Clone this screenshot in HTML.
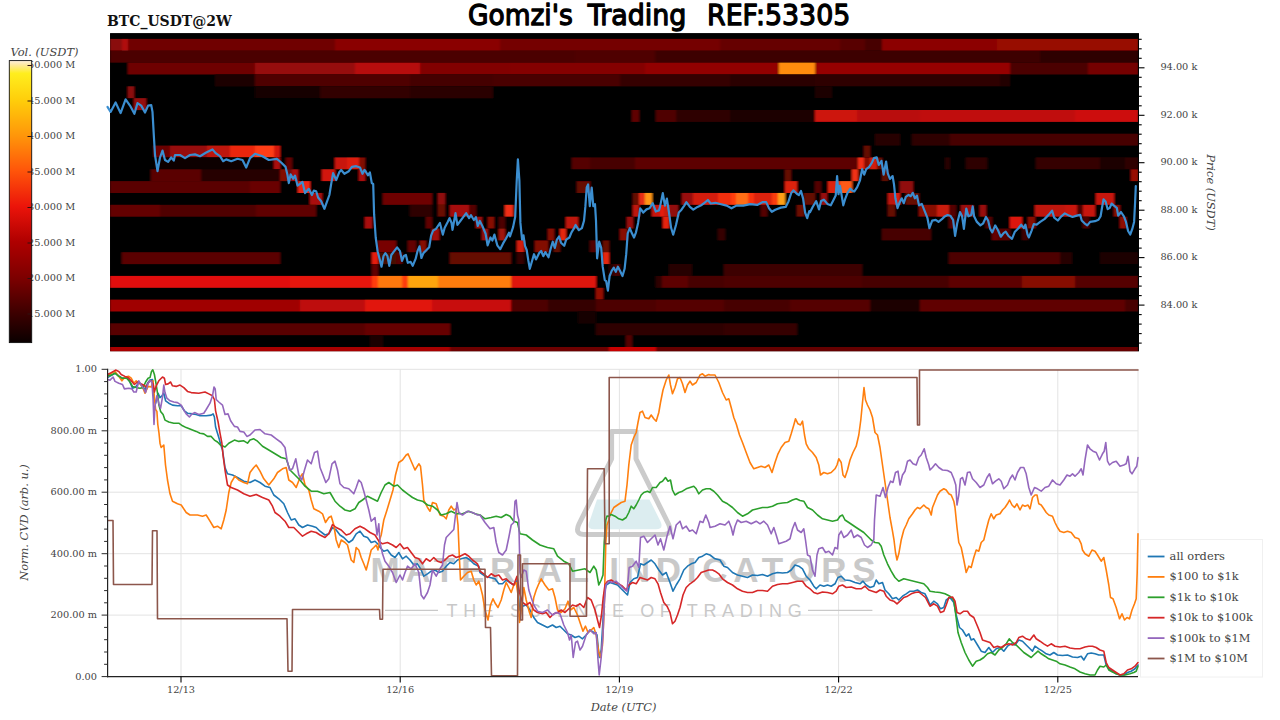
<!DOCTYPE html>
<html lang="en"><head><meta charset="utf-8"><title>Gomzi's Trading REF:53305</title>
<style>html,body{margin:0;padding:0;background:#fff;}body{width:1280px;height:720px;overflow:hidden;}svg{display:block;}text{font-family:"DejaVu Serif","Liberation Serif",serif;fill:#444;}.tk{font-size:9.75px;}.it{font-style:italic;font-size:11.4px;}.lg{font-size:11.4px;}.cv{fill:none;stroke-width:1.6;stroke-linejoin:round;stroke-linecap:round;}</style></head><body>
<svg width="1280" height="720" viewBox="0 0 1280 720">
<rect width="1280" height="720" fill="#fff"/>
<defs><linearGradient id="cb" x1="0" y1="1" x2="0" y2="0"><stop offset="0" stop-color="#0a0000"/><stop offset="0.103" stop-color="#3c0000"/><stop offset="0.23" stop-color="#7d0000"/><stop offset="0.358" stop-color="#af0000"/><stop offset="0.482" stop-color="#eb140a"/><stop offset="0.61" stop-color="#ff550a"/><stop offset="0.734" stop-color="#ff960a"/><stop offset="0.858" stop-color="#ffcd0a"/><stop offset="0.955" stop-color="#ffee1e"/><stop offset="0.985" stop-color="#ffe9a0"/><stop offset="1" stop-color="#fff0e0"/></linearGradient><clipPath id="hc"><rect x="110.1" y="33.3" width="1028.4" height="317.9"/></clipPath><filter id="bl" x="-2%" y="-5%" width="104%" height="110%"><feGaussianBlur stdDeviation="0.8 0.6"/></filter><clipPath id="pc"><rect x="107" y="368" width="1032" height="309.5"/></clipPath></defs>
<text x="107" y="25.5" style="font-weight:bold;font-size:14px;fill:#111" id="t_pair">BTC_USDT@2W</text>
<text x="467.9" y="25" textLength="104.9" lengthAdjust="spacingAndGlyphs" style="font-family:'DejaVu Sans','Liberation Sans',sans-serif;font-size:29px;fill:#000;stroke:#000;stroke-width:1.3;stroke-linejoin:round">Gomzi's</text>
<text x="587.7" y="25" textLength="98.7" lengthAdjust="spacingAndGlyphs" style="font-family:'DejaVu Sans','Liberation Sans',sans-serif;font-size:29px;fill:#000;stroke:#000;stroke-width:1.3;stroke-linejoin:round">Trading</text>
<text x="707" y="25" textLength="143.3" lengthAdjust="spacingAndGlyphs" style="font-family:'DejaVu Sans','Liberation Sans',sans-serif;font-size:29px;fill:#000;stroke:#000;stroke-width:1.3;stroke-linejoin:round">REF:53305</text>
<text x="10.5" y="56" class="it" id="t_vol">Vol. (USDT)</text>
<g id="cbl">
<text x="75.3" y="68.0" text-anchor="end" class="tk">50.000 M</text>
<text x="75.3" y="103.5" text-anchor="end" class="tk">45.000 M</text>
<text x="75.3" y="139.0" text-anchor="end" class="tk">40.000 M</text>
<text x="75.3" y="174.5" text-anchor="end" class="tk">35.000 M</text>
<text x="75.3" y="210.0" text-anchor="end" class="tk">30.000 M</text>
<text x="75.3" y="245.5" text-anchor="end" class="tk">25.000 M</text>
<text x="75.3" y="281.0" text-anchor="end" class="tk">20.000 M</text>
<text x="75.3" y="316.5" text-anchor="end" class="tk">15.000 M</text>
</g>
<rect x="9.3" y="60.6" width="22.4" height="282" fill="url(#cb)" stroke="#111" stroke-width="0.9"/>
<line x1="27.5" y1="65.5" x2="31.8" y2="65.5" stroke="#301010" stroke-width="1"/>
<line x1="27.5" y1="101.0" x2="31.8" y2="101.0" stroke="#301010" stroke-width="1"/>
<line x1="27.5" y1="136.5" x2="31.8" y2="136.5" stroke="#301010" stroke-width="1"/>
<line x1="27.5" y1="172.0" x2="31.8" y2="172.0" stroke="#301010" stroke-width="1"/>
<line x1="27.5" y1="207.5" x2="31.8" y2="207.5" stroke="#301010" stroke-width="1"/>
<line x1="27.5" y1="243.0" x2="31.8" y2="243.0" stroke="#301010" stroke-width="1"/>
<line x1="27.5" y1="278.5" x2="31.8" y2="278.5" stroke="#301010" stroke-width="1"/>
<line x1="27.5" y1="314.0" x2="31.8" y2="314.0" stroke="#301010" stroke-width="1"/>
<rect x="110.1" y="33.3" width="1028.4" height="317.9" fill="#000"/>
<g clip-path="url(#hc)"><g filter="url(#bl)">
<rect x="105.1" y="28.299999999999997" width="1038.4" height="327.9" fill="#000"/>
<rect x="110" y="38.90" width="12" height="11.90" fill="rgb(138,8,8)"/>
<rect x="122" y="38.90" width="6" height="11.90" fill="rgb(176,16,16)"/>
<rect x="128" y="38.90" width="207" height="11.90" fill="rgb(112,0,0)"/>
<rect x="335" y="38.90" width="165" height="11.90" fill="rgb(138,5,5)"/>
<rect x="500" y="38.90" width="220" height="11.90" fill="rgb(116,3,3)"/>
<rect x="720" y="38.90" width="120" height="11.90" fill="rgb(102,2,2)"/>
<rect x="840" y="38.90" width="25" height="11.90" fill="rgb(88,0,0)"/>
<rect x="865" y="38.90" width="17" height="11.90" fill="rgb(70,0,0)"/>
<rect x="882" y="38.90" width="115" height="11.90" fill="rgb(140,6,5)"/>
<rect x="997" y="38.90" width="141" height="11.90" fill="rgb(152,8,6)"/>
<rect x="110" y="50.75" width="465" height="11.90" fill="rgb(76,0,0)"/>
<rect x="575" y="50.75" width="80" height="11.90" fill="rgb(80,0,0)"/>
<rect x="655" y="50.75" width="227" height="11.90" fill="rgb(62,0,0)"/>
<rect x="882" y="50.75" width="158" height="11.90" fill="rgb(60,0,0)"/>
<rect x="1040" y="50.75" width="98" height="11.90" fill="rgb(46,0,0)"/>
<rect x="128" y="62.60" width="127" height="11.90" fill="rgb(110,0,0)"/>
<rect x="255" y="62.60" width="100" height="11.90" fill="rgb(150,10,10)"/>
<rect x="355" y="62.60" width="65" height="11.90" fill="rgb(182,12,8)"/>
<rect x="420" y="62.60" width="90" height="11.90" fill="rgb(130,5,3)"/>
<rect x="510" y="62.60" width="135" height="11.90" fill="rgb(132,5,4)"/>
<rect x="645" y="62.60" width="134" height="11.90" fill="rgb(146,6,4)"/>
<rect x="779" y="62.60" width="36" height="11.90" fill="rgb(255,140,10)"/>
<rect x="815" y="62.60" width="195" height="11.90" fill="rgb(150,6,5)"/>
<rect x="1010" y="62.60" width="78" height="11.90" fill="rgb(75,0,0)"/>
<rect x="1088" y="62.60" width="50" height="11.90" fill="rgb(116,5,4)"/>
<rect x="215" y="74.45" width="40" height="11.90" fill="rgb(30,0,0)"/>
<rect x="255" y="74.45" width="155" height="11.90" fill="rgb(80,0,0)"/>
<rect x="410" y="74.45" width="83" height="11.90" fill="rgb(68,0,0)"/>
<rect x="493" y="74.45" width="127" height="11.90" fill="rgb(72,0,0)"/>
<rect x="620" y="74.45" width="110" height="11.90" fill="rgb(54,0,0)"/>
<rect x="730" y="74.45" width="85" height="11.90" fill="rgb(42,0,0)"/>
<rect x="815" y="74.45" width="185" height="11.90" fill="rgb(46,0,0)"/>
<rect x="1000" y="74.45" width="10" height="11.90" fill="rgb(36,0,0)"/>
<rect x="128" y="86.30" width="6" height="11.90" fill="rgb(140,10,10)"/>
<rect x="255" y="86.30" width="65" height="11.90" fill="rgb(25,0,0)"/>
<rect x="320" y="86.30" width="90" height="11.90" fill="rgb(50,0,0)"/>
<rect x="410" y="86.30" width="83" height="11.90" fill="rgb(42,0,0)"/>
<rect x="815" y="86.30" width="17" height="11.90" fill="rgb(31,0,0)"/>
<rect x="134" y="98.15" width="12" height="11.90" fill="rgb(150,10,10)"/>
<rect x="632" y="110.00" width="7" height="11.90" fill="rgb(95,5,5)"/>
<rect x="656" y="110.00" width="20" height="11.90" fill="rgb(80,5,5)"/>
<rect x="676" y="110.00" width="54" height="11.90" fill="rgb(46,0,0)"/>
<rect x="730" y="110.00" width="85" height="11.90" fill="rgb(30,0,0)"/>
<rect x="815" y="110.00" width="42" height="11.90" fill="rgb(205,18,10)"/>
<rect x="857" y="110.00" width="63" height="11.90" fill="rgb(185,15,10)"/>
<rect x="920" y="110.00" width="155" height="11.90" fill="rgb(192,12,10)"/>
<rect x="1075" y="110.00" width="63" height="11.90" fill="rgb(205,15,10)"/>
<rect x="875" y="133.70" width="25" height="11.90" fill="rgb(39,0,0)"/>
<rect x="912" y="133.70" width="38" height="11.90" fill="rgb(46,0,0)"/>
<rect x="950" y="133.70" width="188" height="11.90" fill="rgb(70,0,0)"/>
<rect x="154" y="145.55" width="16" height="11.90" fill="rgb(105,5,5)"/>
<rect x="170" y="145.55" width="37" height="11.90" fill="rgb(150,15,10)"/>
<rect x="207" y="145.55" width="23" height="11.90" fill="rgb(190,25,10)"/>
<rect x="230" y="145.55" width="25" height="11.90" fill="rgb(235,40,15)"/>
<rect x="255" y="145.55" width="19" height="11.90" fill="rgb(255,62,18)"/>
<rect x="274" y="145.55" width="6" height="11.90" fill="rgb(210,25,10)"/>
<rect x="864" y="145.55" width="6" height="11.90" fill="rgb(101,7,3)"/>
<rect x="154" y="157.40" width="120" height="11.90" fill="rgb(16,0,0)"/>
<rect x="274" y="157.40" width="6" height="11.90" fill="rgb(170,15,10)"/>
<rect x="286" y="157.40" width="6" height="11.90" fill="rgb(100,5,5)"/>
<rect x="335" y="157.40" width="12" height="11.90" fill="rgb(200,25,15)"/>
<rect x="347" y="157.40" width="12" height="11.90" fill="rgb(220,30,15)"/>
<rect x="359" y="157.40" width="6" height="11.90" fill="rgb(130,10,5)"/>
<rect x="572" y="157.40" width="18" height="11.90" fill="rgb(85,3,3)"/>
<rect x="590" y="157.40" width="45" height="11.90" fill="rgb(70,0,0)"/>
<rect x="635" y="157.40" width="223" height="11.90" fill="rgb(93,3,3)"/>
<rect x="858" y="157.40" width="6" height="11.90" fill="rgb(240,45,20)"/>
<rect x="864" y="157.40" width="6" height="11.90" fill="rgb(135,9,4)"/>
<rect x="870" y="157.40" width="7" height="11.90" fill="rgb(210,30,15)"/>
<rect x="877" y="157.40" width="5" height="11.90" fill="rgb(101,7,3)"/>
<rect x="945" y="157.40" width="5" height="11.90" fill="rgb(39,0,0)"/>
<rect x="966" y="157.40" width="21" height="11.90" fill="rgb(46,0,0)"/>
<rect x="1036" y="157.40" width="64" height="11.90" fill="rgb(54,0,0)"/>
<rect x="1100" y="157.40" width="25" height="11.90" fill="rgb(31,0,0)"/>
<rect x="1125" y="157.40" width="13" height="11.90" fill="rgb(46,0,0)"/>
<rect x="151" y="169.25" width="50" height="11.90" fill="rgb(90,0,0)"/>
<rect x="201" y="169.25" width="79" height="11.90" fill="rgb(40,0,0)"/>
<rect x="280" y="169.25" width="6" height="11.90" fill="rgb(130,10,5)"/>
<rect x="286" y="169.25" width="6" height="11.90" fill="rgb(110,10,10)"/>
<rect x="292" y="169.25" width="6" height="11.90" fill="rgb(170,15,10)"/>
<rect x="322" y="169.25" width="13" height="11.90" fill="rgb(210,25,15)"/>
<rect x="359" y="169.25" width="6" height="11.90" fill="rgb(170,15,10)"/>
<rect x="785" y="169.25" width="6" height="11.90" fill="rgb(101,7,3)"/>
<rect x="852" y="169.25" width="6" height="11.90" fill="rgb(240,50,20)"/>
<rect x="882" y="169.25" width="6" height="11.90" fill="rgb(93,7,3)"/>
<rect x="1131" y="169.25" width="7" height="11.90" fill="rgb(153,9,4)"/>
<rect x="110" y="181.10" width="140" height="11.90" fill="rgb(90,0,0)"/>
<rect x="250" y="181.10" width="30" height="11.90" fill="rgb(105,3,3)"/>
<rect x="298" y="181.10" width="6" height="11.90" fill="rgb(230,40,20)"/>
<rect x="304" y="181.10" width="6" height="11.90" fill="rgb(240,40,20)"/>
<rect x="577" y="181.10" width="13" height="11.90" fill="rgb(101,7,3)"/>
<rect x="785" y="181.10" width="12" height="11.90" fill="rgb(220,35,15)"/>
<rect x="815" y="181.10" width="6" height="11.90" fill="rgb(85,3,3)"/>
<rect x="828" y="181.10" width="12" height="11.90" fill="rgb(220,35,15)"/>
<rect x="840" y="181.10" width="12" height="11.90" fill="rgb(255,90,20)"/>
<rect x="900" y="181.10" width="13" height="11.90" fill="rgb(144,13,9)"/>
<rect x="310" y="192.95" width="12" height="11.90" fill="rgb(170,15,10)"/>
<rect x="383" y="192.95" width="49" height="11.90" fill="rgb(110,0,0)"/>
<rect x="438" y="192.95" width="7" height="11.90" fill="rgb(144,10,7)"/>
<rect x="633" y="192.95" width="6" height="11.90" fill="rgb(101,7,3)"/>
<rect x="639" y="192.95" width="6" height="11.90" fill="rgb(230,45,20)"/>
<rect x="645" y="192.95" width="7" height="11.90" fill="rgb(255,150,25)"/>
<rect x="682" y="192.95" width="11" height="11.90" fill="rgb(153,13,9)"/>
<rect x="693" y="192.95" width="25" height="11.90" fill="rgb(210,30,15)"/>
<rect x="718" y="192.95" width="13" height="11.90" fill="rgb(240,45,15)"/>
<rect x="731" y="192.95" width="5" height="11.90" fill="rgb(255,60,15)"/>
<rect x="736" y="192.95" width="12" height="11.90" fill="rgb(255,110,20)"/>
<rect x="748" y="192.95" width="6" height="11.90" fill="rgb(250,50,15)"/>
<rect x="754" y="192.95" width="18" height="11.90" fill="rgb(220,35,15)"/>
<rect x="772" y="192.95" width="6" height="11.90" fill="rgb(250,60,15)"/>
<rect x="778" y="192.95" width="7" height="11.90" fill="rgb(255,160,25)"/>
<rect x="804" y="192.95" width="11" height="11.90" fill="rgb(101,7,3)"/>
<rect x="821" y="192.95" width="6" height="11.90" fill="rgb(153,13,9)"/>
<rect x="888" y="192.95" width="7" height="11.90" fill="rgb(190,20,10)"/>
<rect x="895" y="192.95" width="5" height="11.90" fill="rgb(220,30,15)"/>
<rect x="906" y="192.95" width="13" height="11.90" fill="rgb(101,7,3)"/>
<rect x="1096" y="192.95" width="18" height="11.90" fill="rgb(200,20,10)"/>
<rect x="110" y="204.80" width="50" height="11.90" fill="rgb(100,0,0)"/>
<rect x="160" y="204.80" width="96" height="11.90" fill="rgb(80,0,0)"/>
<rect x="256" y="204.80" width="60" height="11.90" fill="rgb(95,0,0)"/>
<rect x="410" y="204.80" width="22" height="11.90" fill="rgb(46,0,0)"/>
<rect x="438" y="204.80" width="7" height="11.90" fill="rgb(105,7,3)"/>
<rect x="450" y="204.80" width="19" height="11.90" fill="rgb(166,16,9)"/>
<rect x="469" y="204.80" width="7" height="11.90" fill="rgb(85,3,3)"/>
<rect x="505" y="204.80" width="8" height="11.90" fill="rgb(240,45,20)"/>
<rect x="633" y="204.80" width="6" height="11.90" fill="rgb(190,20,10)"/>
<rect x="652" y="204.80" width="8" height="11.90" fill="rgb(200,25,15)"/>
<rect x="660" y="204.80" width="4" height="11.90" fill="rgb(230,30,15)"/>
<rect x="664" y="204.80" width="5" height="11.90" fill="rgb(200,30,15)"/>
<rect x="669" y="204.80" width="9" height="11.90" fill="rgb(144,13,9)"/>
<rect x="761" y="204.80" width="6" height="11.90" fill="rgb(85,3,3)"/>
<rect x="797" y="204.80" width="7" height="11.90" fill="rgb(109,7,3)"/>
<rect x="888" y="204.80" width="7" height="11.90" fill="rgb(101,7,3)"/>
<rect x="919" y="204.80" width="18" height="11.90" fill="rgb(135,9,4)"/>
<rect x="937" y="204.80" width="12" height="11.90" fill="rgb(200,30,15)"/>
<rect x="949" y="204.80" width="7" height="11.90" fill="rgb(85,3,3)"/>
<rect x="961" y="204.80" width="12" height="11.90" fill="rgb(153,13,9)"/>
<rect x="980" y="204.80" width="6" height="11.90" fill="rgb(153,13,9)"/>
<rect x="1035" y="204.80" width="30" height="11.90" fill="rgb(190,20,10)"/>
<rect x="1065" y="204.80" width="12" height="11.90" fill="rgb(200,20,10)"/>
<rect x="1077" y="204.80" width="6" height="11.90" fill="rgb(78,3,3)"/>
<rect x="1083" y="204.80" width="12" height="11.90" fill="rgb(200,20,10)"/>
<rect x="1114" y="204.80" width="6" height="11.90" fill="rgb(135,9,4)"/>
<rect x="365" y="216.65" width="7" height="11.90" fill="rgb(170,15,10)"/>
<rect x="426" y="216.65" width="6" height="11.90" fill="rgb(97,6,3)"/>
<rect x="476" y="216.65" width="6" height="11.90" fill="rgb(153,13,9)"/>
<rect x="488" y="216.65" width="6" height="11.90" fill="rgb(135,9,4)"/>
<rect x="499" y="216.65" width="6" height="11.90" fill="rgb(78,3,3)"/>
<rect x="566" y="216.65" width="12" height="11.90" fill="rgb(190,20,10)"/>
<rect x="627" y="216.65" width="6" height="11.90" fill="rgb(153,13,9)"/>
<rect x="663" y="216.65" width="6" height="11.90" fill="rgb(230,35,15)"/>
<rect x="949" y="216.65" width="6" height="11.90" fill="rgb(85,3,3)"/>
<rect x="986" y="216.65" width="6" height="11.90" fill="rgb(85,3,3)"/>
<rect x="1010" y="216.65" width="12" height="11.90" fill="rgb(220,25,10)"/>
<rect x="1028" y="216.65" width="7" height="11.90" fill="rgb(135,9,4)"/>
<rect x="1083" y="216.65" width="6" height="11.90" fill="rgb(78,3,3)"/>
<rect x="1120" y="216.65" width="6" height="11.90" fill="rgb(144,9,4)"/>
<rect x="432" y="228.50" width="7" height="11.90" fill="rgb(162,16,9)"/>
<rect x="482" y="228.50" width="6" height="11.90" fill="rgb(153,13,9)"/>
<rect x="499" y="228.50" width="6" height="11.90" fill="rgb(162,18,9)"/>
<rect x="548" y="228.50" width="6" height="11.90" fill="rgb(135,9,4)"/>
<rect x="560" y="228.50" width="6" height="11.90" fill="rgb(230,40,15)"/>
<rect x="620" y="228.50" width="7" height="11.90" fill="rgb(135,9,4)"/>
<rect x="718" y="228.50" width="7" height="11.90" fill="rgb(54,0,0)"/>
<rect x="882" y="228.50" width="49" height="11.90" fill="rgb(70,0,0)"/>
<rect x="992" y="228.50" width="6" height="11.90" fill="rgb(101,3,3)"/>
<rect x="998" y="228.50" width="12" height="11.90" fill="rgb(85,3,3)"/>
<rect x="1022" y="228.50" width="6" height="11.90" fill="rgb(62,0,0)"/>
<rect x="378" y="240.35" width="18" height="11.90" fill="rgb(120,5,5)"/>
<rect x="408" y="240.35" width="8" height="11.90" fill="rgb(100,5,5)"/>
<rect x="420" y="240.35" width="6" height="11.90" fill="rgb(135,9,4)"/>
<rect x="517" y="240.35" width="7" height="11.90" fill="rgb(210,30,15)"/>
<rect x="535" y="240.35" width="13" height="11.90" fill="rgb(130,9,4)"/>
<rect x="554" y="240.35" width="6" height="11.90" fill="rgb(97,7,3)"/>
<rect x="590" y="240.35" width="6" height="11.90" fill="rgb(81,3,3)"/>
<rect x="603" y="240.35" width="6" height="11.90" fill="rgb(105,7,3)"/>
<rect x="122" y="252.20" width="158" height="11.90" fill="rgb(90,0,0)"/>
<rect x="372" y="252.20" width="6" height="11.90" fill="rgb(230,30,15)"/>
<rect x="378" y="252.20" width="18" height="11.90" fill="rgb(70,8,5)"/>
<rect x="396" y="252.20" width="6" height="11.90" fill="rgb(90,5,5)"/>
<rect x="450" y="252.20" width="61" height="11.90" fill="rgb(101,7,3)"/>
<rect x="517" y="252.20" width="7" height="11.90" fill="rgb(54,0,0)"/>
<rect x="603" y="252.20" width="6" height="11.90" fill="rgb(230,40,15)"/>
<rect x="949" y="252.20" width="111" height="11.90" fill="rgb(78,3,3)"/>
<rect x="1060" y="252.20" width="12" height="11.90" fill="rgb(39,0,0)"/>
<rect x="1100" y="252.20" width="38" height="11.90" fill="rgb(27,0,0)"/>
<rect x="372" y="264.05" width="6" height="11.90" fill="rgb(100,0,0)"/>
<rect x="609" y="264.05" width="5" height="11.90" fill="rgb(39,0,0)"/>
<rect x="614" y="264.05" width="6" height="11.90" fill="rgb(70,0,0)"/>
<rect x="669" y="264.05" width="23" height="11.90" fill="rgb(39,0,0)"/>
<rect x="724" y="264.05" width="138" height="11.90" fill="rgb(62,0,0)"/>
<rect x="110" y="275.90" width="180" height="11.90" fill="rgb(225,15,10)"/>
<rect x="290" y="275.90" width="82" height="11.90" fill="rgb(230,25,10)"/>
<rect x="372" y="275.90" width="6" height="11.90" fill="rgb(255,60,10)"/>
<rect x="378" y="275.90" width="24" height="11.90" fill="rgb(255,120,10)"/>
<rect x="402" y="275.90" width="6" height="11.90" fill="rgb(255,60,10)"/>
<rect x="408" y="275.90" width="30" height="11.90" fill="rgb(255,165,15)"/>
<rect x="438" y="275.90" width="73" height="11.90" fill="rgb(255,125,10)"/>
<rect x="511" y="275.90" width="85" height="11.90" fill="rgb(222,20,10)"/>
<rect x="656" y="275.90" width="6" height="11.90" fill="rgb(46,0,0)"/>
<rect x="662" y="275.90" width="26" height="11.90" fill="rgb(93,3,3)"/>
<rect x="688" y="275.90" width="36" height="11.90" fill="rgb(70,0,0)"/>
<rect x="724" y="275.90" width="138" height="11.90" fill="rgb(78,0,0)"/>
<rect x="862" y="275.90" width="87" height="11.90" fill="rgb(70,0,0)"/>
<rect x="949" y="275.90" width="73" height="11.90" fill="rgb(93,3,3)"/>
<rect x="1022" y="275.90" width="53" height="11.90" fill="rgb(135,9,4)"/>
<rect x="1075" y="275.90" width="63" height="11.90" fill="rgb(85,3,3)"/>
<rect x="596" y="287.75" width="7" height="11.90" fill="rgb(148,9,4)"/>
<rect x="110" y="299.60" width="190" height="11.90" fill="rgb(160,5,5)"/>
<rect x="300" y="299.60" width="65" height="11.90" fill="rgb(190,10,10)"/>
<rect x="365" y="299.60" width="67" height="11.90" fill="rgb(225,20,12)"/>
<rect x="432" y="299.60" width="79" height="11.90" fill="rgb(200,15,10)"/>
<rect x="511" y="299.60" width="37" height="11.90" fill="rgb(78,3,0)"/>
<rect x="548" y="299.60" width="48" height="11.90" fill="rgb(54,0,0)"/>
<rect x="596" y="299.60" width="60" height="11.90" fill="rgb(78,3,0)"/>
<rect x="656" y="299.60" width="68" height="11.90" fill="rgb(85,3,3)"/>
<rect x="724" y="299.60" width="66" height="11.90" fill="rgb(70,0,0)"/>
<rect x="790" y="299.60" width="80" height="11.90" fill="rgb(85,3,3)"/>
<rect x="870" y="299.60" width="50" height="11.90" fill="rgb(31,0,0)"/>
<rect x="920" y="299.60" width="205" height="11.90" fill="rgb(97,3,3)"/>
<rect x="1125" y="299.60" width="13" height="11.90" fill="rgb(70,0,0)"/>
<rect x="578" y="311.45" width="18" height="11.90" fill="rgb(22,0,0)"/>
<rect x="110" y="323.30" width="255" height="11.90" fill="rgb(88,0,0)"/>
<rect x="365" y="323.30" width="85" height="11.90" fill="rgb(102,2,2)"/>
<rect x="596" y="323.30" width="128" height="11.90" fill="rgb(46,0,0)"/>
<rect x="724" y="323.30" width="73" height="11.90" fill="rgb(54,0,0)"/>
<rect x="370" y="335.15" width="13" height="11.90" fill="rgb(30,0,0)"/>
<rect x="626" y="335.15" width="6" height="11.90" fill="rgb(85,3,3)"/>
<rect x="110" y="347.00" width="340" height="11.90" fill="rgb(168,0,0)"/>
<rect x="450" y="347.00" width="159" height="11.90" fill="rgb(109,0,0)"/>
<rect x="609" y="347.00" width="47" height="11.90" fill="rgb(200,5,5)"/>
<rect x="656" y="347.00" width="482" height="11.90" fill="rgb(101,0,0)"/>
</g></g>
<polyline points="107.5,106.9 110.6,111.9 115.6,102.5 120.6,113.1 125.6,99.4 130.0,105.6 134.4,113.8 137.5,103.1 141.2,105.6 145.0,112.5 148.1,105.6 151.2,105.0 152.5,111.9 153.8,135.0 155.0,155.0 157.5,171.2 160.0,157.5 162.5,150.6 165.0,160.0 168.1,161.9 171.2,157.5 173.8,160.6 175.0,155.0 180.0,155.0 185.0,158.1 190.0,155.0 195.0,154.4 200.0,156.2 206.2,152.5 212.5,149.4 215.6,153.1 220.0,156.2 223.1,161.2 226.2,159.4 231.2,161.2 237.5,158.8 242.5,160.0 246.2,167.5 248.8,161.2 250.0,158.1 255.0,153.8 262.5,156.2 268.8,160.0 276.9,158.8 281.2,162.5 285.6,166.9 287.5,175.0 288.8,183.1 290.6,174.4 293.1,178.8 295.0,175.6 297.5,185.6 300.0,183.8 302.5,181.9 305.0,193.1 308.8,188.8 311.9,195.0 313.8,190.6 316.2,191.2 318.1,197.5 321.2,201.2 324.4,208.8 326.9,201.9 329.4,195.0 331.2,183.8 333.1,173.1 336.2,180.0 339.4,171.9 341.2,170.0 344.4,173.8 348.8,171.2 351.9,166.9 356.2,166.2 360.0,167.5 362.5,173.8 364.4,170.0 365.0,170.4 367.9,175.3 369.9,172.4 371.8,183.1 373.2,184.0 374.1,214.2 375.7,237.5 377.6,251.2 379.6,258.9 381.5,266.7 383.5,256.0 385.4,253.1 387.4,256.0 389.3,265.8 391.3,255.0 394.2,251.2 397.1,247.3 400.0,251.2 402.0,260.9 403.9,256.0 405.9,255.0 407.8,262.8 410.7,261.9 412.7,265.8 415.6,258.9 417.5,251.2 419.5,246.3 421.4,258.0 423.4,253.1 426.3,250.2 429.2,247.3 431.1,235.6 433.1,230.7 436.0,228.8 439.9,223.0 442.8,234.6 444.7,227.8 447.7,222.0 449.6,218.1 451.6,223.0 452.5,229.8 455.5,213.2 457.4,224.9 460.3,221.0 463.2,217.1 466.2,213.2 469.1,218.1 471.0,215.2 473.9,220.0 475.9,217.1 477.8,225.9 479.8,221.0 482.7,226.8 485.6,233.7 487.6,245.3 490.5,237.5 492.4,240.5 494.4,234.6 497.3,245.3 500.2,249.2 503.1,243.4 506.0,238.5 509.0,232.7 510.0,236.5 513.1,227.1 515.2,216.7 516.7,181.2 517.9,159.4 519.4,181.2 520.4,222.9 522.1,239.6 523.5,235.4 525.0,245.8 526.7,250.0 528.3,260.4 529.8,268.8 531.9,261.5 534.0,254.2 536.0,259.4 539.2,253.1 541.2,251.0 543.3,256.2 545.4,252.1 548.5,257.3 550.6,249.0 552.7,241.7 554.8,247.9 556.9,239.6 559.0,236.5 561.0,242.7 564.2,245.8 566.2,239.6 569.4,237.5 571.5,232.3 573.5,229.2 575.6,225.0 578.8,230.2 581.9,228.1 584.0,220.8 585.4,206.2 586.7,187.5 588.1,184.4 589.8,206.2 591.7,187.5 593.3,206.2 595.0,204.2 596.0,220.8 597.1,258.3 599.2,241.7 601.2,247.9 602.7,266.7 604.8,280.2 606.2,281.2 607.9,290.6 609.6,276.0 611.7,270.8 613.8,267.7 615.8,271.9 617.9,266.7 620.0,270.8 622.5,276.0 624.6,268.8 626.2,254.2 627.7,233.3 629.8,228.1 631.9,233.3 634.0,237.5 636.0,232.3 638.1,222.9 640.2,208.3 643.3,212.5 646.5,209.4 649.6,208.3 652.7,203.1 655.8,211.5 659.0,210.4 660.0,206.9 662.8,193.1 664.9,205.6 666.9,198.6 669.0,212.5 671.1,227.8 673.2,234.7 676.0,225.0 678.8,212.5 681.5,209.7 684.3,205.6 686.4,202.1 689.9,206.9 693.3,209.7 697.5,206.9 701.7,204.9 704.4,202.8 707.9,200.0 710.7,203.5 715.6,202.8 721.1,204.2 726.7,205.6 731.5,208.3 736.4,205.6 743.3,205.6 750.3,204.2 757.2,204.9 762.8,202.1 766.2,202.1 769.0,208.3 771.8,211.8 775.3,209.7 780.8,207.6 785.7,206.9 788.5,201.4 791.2,193.1 793.3,190.3 796.8,193.8 798.9,195.1 801.0,191.0 803.1,198.6 805.1,212.5 807.2,218.1 809.3,211.1 810.0,212.2 812.8,206.7 816.2,201.1 819.0,209.4 821.1,201.1 823.9,199.7 827.4,203.9 830.8,205.3 833.6,199.7 835.7,195.6 837.1,176.1 838.5,194.2 839.9,185.8 841.2,192.8 843.3,205.3 845.4,198.3 847.5,192.8 850.3,188.6 852.4,190.7 854.4,191.4 857.2,187.2 860.0,180.3 862.1,169.2 864.2,174.7 866.2,169.2 869.0,167.1 871.8,162.9 873.9,158.1 876.7,157.4 878.8,165.0 881.5,160.8 883.6,174.7 886.1,161.5 887.8,173.3 889.9,178.9 892.6,176.1 894.0,184.4 895.4,198.3 897.5,208.1 899.6,202.5 901.7,198.3 903.8,203.2 905.8,196.9 908.6,194.9 910.7,196.2 912.8,192.8 914.9,198.3 916.9,195.6 919.0,205.3 921.8,203.9 924.6,210.8 927.4,217.8 929.4,228.2 932.2,220.6 935.7,219.9 938.5,221.9 941.9,219.2 944.7,216.4 947.5,215.0 950.3,215.7 953.1,219.9 955.1,235.8 957.2,223.3 960.0,212.0 962.1,216.3 963.9,228.9 966.3,208.5 968.4,216.3 971.2,214.9 972.7,206.4 974.1,216.3 976.9,221.9 980.4,225.4 983.2,223.3 986.0,217.0 988.1,220.5 990.2,228.9 992.3,232.4 995.2,225.4 998.0,230.3 1000.8,236.7 1003.6,233.1 1005.7,231.7 1008.5,236.0 1012.0,238.8 1014.9,231.7 1018.4,228.2 1021.2,224.7 1024.0,228.2 1025.4,224.7 1027.5,234.5 1028.9,237.4 1031.7,230.3 1033.8,224.0 1036.7,224.7 1040.2,221.9 1044.4,219.1 1048.6,214.9 1052.1,210.6 1054.2,217.7 1057.8,220.5 1061.3,216.3 1064.8,213.4 1069.0,215.6 1072.5,217.0 1076.7,215.6 1080.2,214.9 1081.7,220.5 1084.5,223.3 1087.3,225.4 1090.1,221.9 1095.0,221.2 1098.5,219.8 1100.6,216.3 1102.0,207.8 1103.5,199.4 1105.6,201.5 1107.7,209.2 1109.8,207.8 1111.6,203.6 1114.0,205.7 1116.8,207.8 1118.2,215.6 1121.0,212.0 1123.9,216.3 1126.0,221.9 1128.1,231.0 1130.2,234.5 1132.3,228.9 1134.1,221.9 1135.1,202.2 1135.8,186.0" fill="none" stroke="#3b8ed0" stroke-width="2.2" stroke-linejoin="round" stroke-linecap="round"/>
<line x1="1138.5" y1="33.3" x2="1138.5" y2="351.2" stroke="#000" stroke-width="1"/>
<line x1="1138.5" y1="39.3" x2="1141.7" y2="39.3" stroke="#000" stroke-width="1.1"/><line x1="1138.5" y1="48.8" x2="1141.7" y2="48.8" stroke="#000" stroke-width="1.1"/><line x1="1138.5" y1="58.3" x2="1141.7" y2="58.3" stroke="#000" stroke-width="1.1"/><line x1="1138.5" y1="67.8" x2="1144.5" y2="67.8" stroke="#000" stroke-width="1.1"/><text x="1197.3" y="70.2" text-anchor="end" class="tk">94.00 k</text><line x1="1138.5" y1="77.3" x2="1141.7" y2="77.3" stroke="#000" stroke-width="1.1"/><line x1="1138.5" y1="86.8" x2="1141.7" y2="86.8" stroke="#000" stroke-width="1.1"/><line x1="1138.5" y1="96.3" x2="1141.7" y2="96.3" stroke="#000" stroke-width="1.1"/><line x1="1138.5" y1="105.8" x2="1141.7" y2="105.8" stroke="#000" stroke-width="1.1"/><line x1="1138.5" y1="115.3" x2="1144.5" y2="115.3" stroke="#000" stroke-width="1.1"/><text x="1197.3" y="117.7" text-anchor="end" class="tk">92.00 k</text><line x1="1138.5" y1="124.8" x2="1141.7" y2="124.8" stroke="#000" stroke-width="1.1"/><line x1="1138.5" y1="134.2" x2="1141.7" y2="134.2" stroke="#000" stroke-width="1.1"/><line x1="1138.5" y1="143.7" x2="1141.7" y2="143.7" stroke="#000" stroke-width="1.1"/><line x1="1138.5" y1="153.2" x2="1141.7" y2="153.2" stroke="#000" stroke-width="1.1"/><line x1="1138.5" y1="162.7" x2="1144.5" y2="162.7" stroke="#000" stroke-width="1.1"/><text x="1197.3" y="165.1" text-anchor="end" class="tk">90.00 k</text><line x1="1138.5" y1="172.2" x2="1141.7" y2="172.2" stroke="#000" stroke-width="1.1"/><line x1="1138.5" y1="181.7" x2="1141.7" y2="181.7" stroke="#000" stroke-width="1.1"/><line x1="1138.5" y1="191.2" x2="1141.7" y2="191.2" stroke="#000" stroke-width="1.1"/><line x1="1138.5" y1="200.7" x2="1141.7" y2="200.7" stroke="#000" stroke-width="1.1"/><line x1="1138.5" y1="210.2" x2="1144.5" y2="210.2" stroke="#000" stroke-width="1.1"/><text x="1197.3" y="212.6" text-anchor="end" class="tk">88.00 k</text><line x1="1138.5" y1="219.7" x2="1141.7" y2="219.7" stroke="#000" stroke-width="1.1"/><line x1="1138.5" y1="229.2" x2="1141.7" y2="229.2" stroke="#000" stroke-width="1.1"/><line x1="1138.5" y1="238.7" x2="1141.7" y2="238.7" stroke="#000" stroke-width="1.1"/><line x1="1138.5" y1="248.1" x2="1141.7" y2="248.1" stroke="#000" stroke-width="1.1"/><line x1="1138.5" y1="257.6" x2="1144.5" y2="257.6" stroke="#000" stroke-width="1.1"/><text x="1197.3" y="260.0" text-anchor="end" class="tk">86.00 k</text><line x1="1138.5" y1="267.1" x2="1141.7" y2="267.1" stroke="#000" stroke-width="1.1"/><line x1="1138.5" y1="276.6" x2="1141.7" y2="276.6" stroke="#000" stroke-width="1.1"/><line x1="1138.5" y1="286.1" x2="1141.7" y2="286.1" stroke="#000" stroke-width="1.1"/><line x1="1138.5" y1="295.6" x2="1141.7" y2="295.6" stroke="#000" stroke-width="1.1"/><line x1="1138.5" y1="305.1" x2="1144.5" y2="305.1" stroke="#000" stroke-width="1.1"/><text x="1197.3" y="307.5" text-anchor="end" class="tk">84.00 k</text><line x1="1138.5" y1="314.6" x2="1141.7" y2="314.6" stroke="#000" stroke-width="1.1"/><line x1="1138.5" y1="324.1" x2="1141.7" y2="324.1" stroke="#000" stroke-width="1.1"/><line x1="1138.5" y1="333.6" x2="1141.7" y2="333.6" stroke="#000" stroke-width="1.1"/><line x1="1138.5" y1="343.1" x2="1141.7" y2="343.1" stroke="#000" stroke-width="1.1"/>
<text transform="translate(1207,192.5) rotate(90)" text-anchor="middle" class="it" id="t_price">Price (USDT)</text>
<line x1="107.6" y1="369.3" x2="1138" y2="369.3" stroke="#e3e3e3" stroke-width="1"/><line x1="107.6" y1="430.8" x2="1138" y2="430.8" stroke="#e3e3e3" stroke-width="1"/><line x1="107.6" y1="492.2" x2="1138" y2="492.2" stroke="#e3e3e3" stroke-width="1"/><line x1="107.6" y1="553.7" x2="1138" y2="553.7" stroke="#e3e3e3" stroke-width="1"/><line x1="107.6" y1="615.1" x2="1138" y2="615.1" stroke="#e3e3e3" stroke-width="1"/><line x1="181.0" y1="369.3" x2="181.0" y2="676.6" stroke="#e3e3e3" stroke-width="1"/><line x1="400.2" y1="369.3" x2="400.2" y2="676.6" stroke="#e3e3e3" stroke-width="1"/><line x1="619.4" y1="369.3" x2="619.4" y2="676.6" stroke="#e3e3e3" stroke-width="1"/><line x1="838.6" y1="369.3" x2="838.6" y2="676.6" stroke="#e3e3e3" stroke-width="1"/><line x1="1057.8" y1="369.3" x2="1057.8" y2="676.6" stroke="#e3e3e3" stroke-width="1"/><line x1="1138" y1="369.3" x2="1138" y2="676.6" stroke="#e6e6e6" stroke-width="1"/>
<g id="wm" fill="none"><path d="M611.6,431.5 L636,431.5 L636,458.8 L668.5,524 Q673.5,534.6 662,534.6 L585.5,534.6 Q574,534.6 579,524 L611.6,458.8 Z" stroke="#cbcbcb" stroke-width="5" stroke-linejoin="round"/><path d="M597,499.4 L649.4,499.4 L660.5,521.5 Q664,529.2 656,529.2 L594,529.2 Q586,529.2 589.5,521.5 Z" fill="#dcedf0" stroke="none"/></g>
<text x="370.5" y="582.2" id="t_wm1" style="font-family:'Liberation Sans',sans-serif;font-weight:bold;font-size:35px;fill:#c9c9c9;letter-spacing:5.73px">MATERIAL INDICATORS</text>
<text x="446.5" y="616.8" id="t_wm2" style="font-family:'Liberation Sans',sans-serif;font-size:18px;fill:#c8c8c8;letter-spacing:5.64px">THE SCIENCE OF TRADING</text>
<line x1="385" y1="610.4" x2="438" y2="610.4" stroke="#c9c9c9" stroke-width="1.3"/><line x1="808" y1="610.4" x2="872.4" y2="610.4" stroke="#c9c9c9" stroke-width="1.3"/>
<g clip-path="url(#pc)">
<polyline class="cv" stroke="#1f77b4" points="107.5,377.6 110.6,375.8 115.0,373.2 118.8,375.8 121.9,378.2 126.2,377.6 129.4,380.8 132.5,388.2 135.6,387.0 138.8,382.6 142.5,385.1 145.0,390.1 147.5,383.2 150.0,380.1 152.5,379.5 154.0,399.5 155.6,403.2 158.1,393.2 160.0,397.6 161.9,395.8 163.8,393.2 165.6,400.8 168.8,403.2 172.5,405.1 177.5,405.8 181.2,405.8 184.4,410.8 187.5,413.2 192.5,413.9 196.2,414.5 200.0,415.8 206.2,415.8 211.2,415.1 213.1,413.9 214.4,417.0 215.6,427.0 217.5,433.2 219.4,439.5 220.6,444.5 222.5,450.0 225.0,467.5 227.5,473.8 232.5,475.0 237.5,477.5 243.8,481.2 250.0,482.5 255.0,480.0 260.0,482.5 265.0,486.2 270.0,487.5 273.8,495.0 278.8,498.8 283.8,503.8 287.5,512.5 291.2,520.0 295.0,518.8 298.8,525.0 302.5,527.5 307.5,525.0 312.5,526.2 316.2,527.5 320.0,531.2 325.0,535.0 328.8,533.8 332.5,527.5 336.2,530.0 340.0,535.0 343.8,537.5 348.8,542.5 352.5,540.0 356.2,533.8 360.0,531.2 363.8,536.2 367.5,537.5 371.2,542.5 375.0,541.2 378.8,545.0 380.0,547.5 383.8,551.2 387.5,550.0 391.2,555.0 395.0,557.5 398.8,552.5 402.5,558.8 406.2,556.2 410.0,560.0 413.8,565.0 417.5,563.8 421.2,570.0 423.8,576.2 427.5,573.8 431.2,571.2 435.0,570.0 438.8,572.5 442.5,571.2 446.2,566.2 450.0,562.5 453.8,563.8 457.5,560.0 461.2,558.8 466.2,557.5 470.0,560.0 473.8,563.8 478.8,566.2 480.0,572.5 485.0,576.2 490.0,577.5 495.0,578.8 498.8,583.8 502.5,583.8 506.2,580.0 510.0,582.5 513.8,585.0 517.5,580.0 519.5,610.0 522.5,606.2 526.2,605.0 530.0,610.0 533.8,617.5 537.5,622.5 542.5,625.0 547.5,627.5 552.5,625.0 556.2,627.5 560.0,626.2 563.8,630.0 567.5,633.8 571.2,635.0 575.0,637.5 578.8,636.2 582.5,638.8 586.2,635.0 590.0,630.0 593.8,632.5 597.0,635.0 599.2,657.5 601.2,650.0 603.0,620.0 604.5,592.5 606.2,585.0 610.0,582.5 613.8,583.8 617.5,585.0 621.2,588.8 625.0,592.5 627.5,595.0 630.0,582.5 633.8,578.8 637.5,577.5 640.5,563.8 643.8,565.0 647.5,562.5 651.2,560.0 655.0,563.8 658.8,570.0 662.5,575.0 666.2,572.5 670.0,582.5 673.0,591.2 676.2,585.0 680.0,578.8 683.8,570.0 687.5,566.2 691.2,563.8 695.0,562.5 698.8,557.5 702.5,556.2 706.2,553.8 710.0,555.0 715.0,558.8 720.0,560.0 723.8,566.2 727.5,567.5 732.5,572.5 737.5,575.0 742.5,576.2 747.5,577.5 752.5,575.0 757.5,575.5 762.5,574.5 767.5,576.2 772.5,573.8 777.5,572.5 782.5,573.0 787.5,572.5 791.2,570.0 795.0,565.0 798.8,566.2 802.5,568.8 806.2,576.2 810.0,580.0 813.8,586.2 816.2,588.8 820.0,585.0 823.8,586.2 827.5,585.0 831.2,586.2 835.0,583.8 838.0,577.5 841.2,576.2 845.0,580.0 850.0,580.5 855.0,582.5 860.0,583.8 863.0,581.2 866.2,585.0 870.0,587.5 873.8,586.2 876.2,580.0 878.8,583.8 882.5,582.5 885.0,590.0 888.8,593.8 892.5,598.8 896.2,597.5 898.8,600.0 902.5,596.2 906.2,593.8 910.0,591.2 913.8,591.2 917.5,590.0 921.2,592.5 925.0,593.8 927.5,598.8 930.0,605.0 933.8,601.2 937.5,603.8 940.5,608.8 943.8,607.5 946.2,600.0 950.0,597.5 953.8,602.5 956.2,615.0 959.5,627.5 962.5,630.0 966.2,636.2 968.8,633.8 971.2,640.0 973.8,638.8 977.5,645.0 981.2,651.2 985.0,652.5 988.8,647.5 992.5,652.5 996.2,648.8 1000.0,647.5 1003.8,651.2 1007.5,646.2 1011.2,643.8 1015.0,645.0 1018.8,640.0 1022.5,641.2 1026.2,645.0 1030.0,648.8 1032.5,651.2 1035.0,646.2 1038.8,648.8 1042.5,651.2 1046.2,653.8 1050.0,655.0 1053.8,652.5 1057.5,655.0 1062.5,655.5 1067.5,655.0 1072.5,657.0 1077.5,657.5 1081.2,656.2 1083.8,660.0 1087.5,653.8 1091.2,653.0 1095.0,653.8 1098.8,655.0 1103.8,655.0 1106.2,665.0 1108.8,668.8 1112.5,671.2 1116.2,673.8 1120.0,675.0 1123.8,675.0 1127.5,672.5 1131.2,671.2 1135.0,668.8 1138.0,665.0"/>
<polyline class="cv" stroke="#ff7f0e" points="107.5,376.4 111.2,373.2 115.0,371.4 118.8,376.4 121.9,380.8 125.0,377.0 128.8,376.4 131.2,378.2 133.8,383.2 136.2,380.8 138.8,382.6 142.5,387.0 145.0,393.2 148.1,386.4 151.2,387.0 153.1,380.8 154.4,397.0 155.6,409.5 156.9,411.4 157.8,424.5 159.0,433.2 160.0,443.2 161.2,447.5 163.8,445.0 165.5,465.0 167.5,480.0 170.0,493.8 172.5,501.2 177.5,503.8 181.2,505.0 186.2,512.5 190.0,515.0 197.5,515.0 202.5,516.2 206.2,515.0 210.0,521.2 213.8,527.5 217.5,526.2 221.2,528.8 223.8,520.0 226.2,510.0 228.8,492.5 231.2,482.5 235.0,476.2 238.8,480.0 243.8,482.5 247.5,483.8 250.0,472.5 253.8,467.5 256.2,465.0 260.0,471.2 263.8,478.8 268.8,485.0 273.8,478.8 277.5,472.5 282.5,468.8 286.2,467.5 288.8,480.0 292.5,482.5 296.2,487.5 300.0,477.5 302.5,473.8 305.0,485.0 308.8,490.0 311.2,500.0 313.8,508.8 318.8,511.2 322.5,513.8 325.5,522.5 328.8,517.5 331.2,516.2 333.8,525.0 336.2,540.0 338.8,547.5 341.2,540.0 345.0,542.5 347.5,545.0 351.2,560.0 353.8,562.5 356.2,547.5 358.8,550.0 361.2,557.5 363.8,563.8 366.2,570.0 368.8,560.0 371.2,550.0 373.8,547.5 376.2,545.0 378.0,550.0 379.5,540.0 381.2,535.0 383.8,520.0 387.0,510.0 390.0,500.0 393.0,490.0 395.5,475.0 398.8,462.5 402.5,460.0 406.2,455.0 408.0,453.8 411.2,461.2 415.0,470.0 418.8,463.8 420.5,466.2 422.5,485.0 423.8,500.0 427.5,507.5 430.0,511.2 432.5,502.5 436.2,503.8 440.0,515.0 443.8,516.2 446.2,518.8 448.8,510.0 451.2,506.2 453.8,510.0 456.2,508.8 458.0,525.0 459.5,560.0 460.5,580.0 463.8,576.2 467.5,572.5 471.2,571.2 473.8,580.0 476.2,585.0 478.8,581.2 480.0,585.0 482.5,595.0 485.0,610.0 488.0,620.0 490.5,605.0 493.0,598.8 495.5,603.8 498.0,607.5 501.2,600.0 503.8,590.0 506.2,582.5 508.8,587.5 511.2,592.5 513.8,585.0 516.2,582.5 518.0,595.0 519.5,622.5 521.2,610.0 523.8,587.5 526.2,600.0 528.8,610.0 531.2,617.5 533.8,597.5 536.2,590.0 538.8,583.8 541.2,578.8 545.0,585.0 548.8,590.0 552.5,588.8 555.0,597.5 557.5,610.0 561.2,612.5 565.0,608.8 568.0,601.2 570.5,610.0 573.8,607.5 577.5,615.0 580.0,622.5 583.0,631.2 585.5,626.2 588.0,632.5 591.2,630.0 593.8,627.5 596.2,635.0 598.8,652.5 600.5,657.5 602.5,645.0 604.2,610.0 605.8,542.5 607.0,525.0 608.8,520.0 610.0,515.0 613.8,507.5 617.5,505.0 621.2,502.5 625.0,501.2 627.0,485.0 628.8,465.0 631.2,445.0 633.8,437.5 636.2,432.5 638.0,422.5 640.0,412.5 642.5,411.2 645.0,417.5 648.8,418.8 651.2,415.0 653.8,418.8 656.2,421.2 658.8,412.5 660.5,402.5 663.0,390.0 666.2,380.0 668.8,375.0 670.5,385.0 672.5,393.8 675.0,387.5 677.5,378.8 680.0,377.5 682.5,383.8 685.0,392.5 687.5,385.0 690.0,381.2 692.5,385.0 696.2,382.5 700.0,375.0 702.5,373.8 705.0,376.2 708.8,374.5 710.0,375.0 715.0,375.0 718.8,382.5 722.5,392.5 726.2,400.0 728.8,398.8 731.2,407.5 733.8,417.5 736.2,423.8 739.5,435.0 742.5,442.5 746.2,452.5 750.0,462.5 753.8,468.8 757.5,467.5 761.2,466.2 765.0,467.5 768.8,465.0 772.0,472.5 775.0,462.5 778.0,453.8 781.2,447.5 785.0,442.5 788.8,441.2 791.2,433.8 793.8,425.0 795.5,418.8 798.0,423.8 800.5,425.0 802.5,421.2 804.5,435.0 806.2,443.8 808.8,448.8 812.5,452.5 816.2,457.5 818.8,465.0 820.5,475.0 823.8,472.5 827.5,473.8 831.2,472.5 835.0,468.8 837.0,465.0 838.8,458.8 841.2,462.5 843.0,475.0 845.0,477.5 847.5,470.0 850.0,460.0 853.0,452.5 856.2,446.2 858.8,435.0 860.8,420.0 862.5,402.5 864.0,387.5 865.5,400.0 867.5,405.0 870.0,410.0 872.5,417.5 875.0,432.5 877.5,435.0 880.0,447.5 882.5,465.0 885.0,482.5 887.5,500.0 890.0,517.5 892.5,531.2 894.0,540.0 895.5,552.5 897.0,560.0 898.8,553.8 901.2,540.0 903.8,530.0 906.2,525.0 908.8,518.8 912.5,513.8 915.0,510.0 917.5,507.5 920.0,508.8 923.8,505.0 926.2,507.5 928.8,508.8 931.2,515.0 932.5,507.5 935.0,501.2 937.5,495.0 940.0,491.2 943.8,488.8 946.2,490.0 948.8,493.8 951.2,495.0 953.8,501.2 955.0,507.5 957.0,527.5 958.8,542.5 961.2,547.5 963.8,560.0 966.2,572.5 968.8,566.2 971.2,567.5 973.8,557.5 976.2,550.0 978.8,551.2 981.2,542.5 983.8,540.0 986.2,530.0 988.8,520.0 991.2,513.8 993.8,518.8 996.2,515.0 1000.0,513.8 1002.5,510.0 1005.0,507.5 1007.5,503.8 1009.5,500.0 1012.0,505.0 1014.5,507.5 1017.0,503.8 1020.0,510.0 1022.5,505.0 1025.0,506.2 1028.0,505.0 1030.0,508.8 1032.5,497.5 1035.0,495.0 1037.0,495.0 1038.8,503.8 1041.2,505.0 1043.8,508.8 1046.2,512.5 1048.8,515.0 1052.5,516.2 1055.0,522.5 1057.5,527.5 1060.0,531.2 1063.8,532.5 1067.5,531.2 1071.2,532.5 1075.0,537.5 1078.8,538.8 1081.2,543.8 1082.5,550.0 1085.0,553.8 1088.8,556.2 1092.0,550.0 1095.0,551.2 1097.5,555.0 1101.2,561.2 1103.8,557.5 1106.2,570.0 1108.8,585.0 1110.5,597.5 1113.0,598.8 1116.2,607.5 1119.5,618.8 1122.0,613.8 1124.5,620.0 1127.0,617.5 1129.5,618.8 1132.0,610.0 1134.5,603.8 1136.2,598.8 1137.2,572.5 1138.0,533.8"/>
<polyline class="cv" stroke="#2ca02c" points="107.5,375.8 111.2,375.1 115.0,373.2 118.8,376.4 122.5,378.2 126.9,378.2 130.0,382.0 132.5,386.4 136.2,387.6 140.0,388.2 143.1,387.6 145.6,382.0 148.1,378.2 150.0,377.6 151.5,371.4 152.8,369.8 154.4,374.5 156.2,384.5 157.5,393.2 158.8,404.5 160.6,411.4 163.1,414.5 165.0,420.1 168.8,422.0 173.8,423.2 178.8,423.2 182.5,425.8 186.2,427.6 191.2,429.5 196.2,431.4 200.0,433.2 203.8,433.9 207.5,436.4 211.2,436.4 214.4,440.1 217.5,442.0 220.6,445.1 225.0,447.0 228.8,443.2 234.4,440.1 238.8,441.4 243.8,440.8 247.5,443.2 250.0,440.0 253.8,438.8 257.5,441.2 262.5,446.2 268.8,450.0 275.0,453.8 281.2,457.5 286.2,458.8 290.0,470.0 295.0,475.0 300.0,480.0 305.0,486.2 311.2,491.2 317.5,491.2 323.8,493.8 330.0,492.5 335.0,501.2 340.0,506.2 345.0,510.0 350.0,511.2 355.0,508.8 358.8,502.5 362.5,500.0 367.5,496.2 372.5,498.8 377.5,501.2 381.2,492.5 385.0,485.0 388.8,482.5 393.8,486.2 397.5,485.0 402.5,490.0 407.5,493.8 412.5,497.5 417.5,500.0 422.5,501.2 427.5,505.0 432.5,506.2 437.5,510.0 441.2,515.0 446.2,513.8 451.2,511.2 456.2,513.8 462.5,513.8 468.8,511.2 475.0,513.8 480.0,515.0 485.0,518.8 491.2,517.5 496.2,516.2 501.2,517.5 506.2,514.5 510.0,516.2 513.8,521.2 517.5,522.5 520.0,533.8 526.2,535.0 532.5,540.0 540.0,545.0 547.5,547.5 553.8,548.8 557.5,556.2 563.8,561.2 568.8,563.8 572.5,571.2 578.8,570.0 585.0,568.8 590.0,572.5 593.8,566.2 596.2,570.0 598.8,585.0 601.2,580.0 603.0,575.0 604.2,542.5 605.8,520.0 607.0,516.0 608.8,516.2 611.2,514.5 615.0,516.2 618.8,518.8 622.5,520.0 626.2,517.5 628.8,512.5 631.2,506.2 633.8,508.8 636.2,505.0 638.8,500.0 641.2,495.0 643.8,492.5 647.5,491.2 650.0,492.5 652.5,487.5 656.2,487.5 660.0,482.5 662.5,481.2 665.5,477.5 668.0,481.2 670.5,480.0 672.5,490.0 675.0,495.0 678.8,492.5 682.5,491.2 686.2,488.8 690.0,487.5 693.8,486.2 696.2,488.8 698.8,493.8 702.5,490.0 706.2,488.8 710.0,488.8 713.8,491.2 717.5,495.0 722.5,501.2 727.5,503.8 732.5,507.5 737.5,512.5 742.5,516.2 747.5,513.8 752.5,510.0 757.5,508.8 762.5,507.5 767.5,507.5 772.5,506.2 777.5,503.8 782.5,503.0 787.5,502.5 792.5,500.0 796.2,498.8 800.0,500.5 803.8,501.2 807.5,507.5 812.5,510.0 817.5,515.0 822.5,518.8 827.5,520.0 832.5,521.2 837.5,520.0 840.0,516.2 842.5,515.0 845.0,520.0 848.8,522.5 852.5,525.0 856.2,527.5 860.0,530.0 863.8,532.5 867.5,536.2 871.2,540.0 875.0,542.5 878.8,543.0 881.2,546.2 883.8,555.0 887.5,563.8 891.2,571.2 895.0,577.5 898.8,581.2 903.8,578.8 908.8,580.0 913.8,581.2 918.8,582.5 923.8,583.8 927.5,587.5 930.0,591.2 935.0,592.0 940.0,592.5 945.0,593.8 950.0,596.2 953.8,600.0 955.8,615.0 958.0,632.5 961.2,642.5 965.0,652.5 968.8,660.0 972.5,666.2 976.2,661.2 980.0,660.0 983.8,657.5 987.5,653.8 991.2,652.5 995.0,655.0 998.8,650.0 1002.5,647.5 1006.2,643.8 1009.2,638.8 1012.5,642.5 1016.2,645.0 1020.0,648.8 1023.8,652.5 1027.5,655.0 1031.2,657.5 1035.0,653.8 1038.0,651.2 1041.2,653.8 1045.0,656.2 1048.8,658.8 1052.5,660.0 1056.2,661.2 1060.0,663.8 1065.0,665.0 1070.0,667.0 1075.0,668.8 1080.0,672.0 1085.0,673.8 1090.0,675.0 1095.0,675.0 1097.5,670.0 1100.0,666.2 1103.8,667.0 1106.2,665.0 1108.8,670.0 1112.5,672.0 1116.2,673.8 1120.0,675.0 1125.0,675.0 1130.0,673.8 1133.8,672.5 1136.2,671.2 1138.0,666.2"/>
<polyline class="cv" stroke="#d62728" points="107.5,374.5 111.2,372.6 115.6,370.1 118.8,371.4 121.2,374.5 125.0,376.4 128.1,377.6 131.2,380.8 134.4,384.5 137.5,382.0 141.2,383.9 143.8,385.1 146.2,387.0 148.8,382.0 151.2,380.8 153.1,383.9 154.4,392.0 156.2,385.8 158.8,380.8 162.5,377.0 164.4,378.2 165.6,384.5 168.1,383.9 170.6,382.0 172.5,385.8 176.2,386.4 180.0,385.1 183.8,387.6 187.5,391.4 191.2,392.6 198.8,393.2 205.0,392.0 208.8,393.9 212.5,395.8 214.4,399.5 215.6,410.8 218.1,422.0 220.0,433.2 221.9,443.2 223.0,455.0 225.0,470.0 227.5,485.0 231.2,487.5 237.5,490.0 243.8,493.8 250.0,496.2 256.2,494.5 262.5,497.5 268.8,500.0 272.5,506.2 275.0,512.5 280.0,516.2 285.0,521.2 288.8,527.5 293.8,527.5 297.5,531.2 302.5,536.2 306.2,533.8 311.2,531.2 316.2,532.5 320.0,535.0 325.0,537.5 328.8,533.8 332.5,524.5 336.2,527.5 341.2,530.0 346.2,535.0 350.0,533.8 355.0,528.8 360.0,526.2 365.0,528.8 370.0,532.5 375.0,535.0 378.8,541.2 382.5,543.8 387.5,542.5 392.5,545.0 396.2,547.5 400.0,543.8 403.8,548.8 407.5,547.5 411.2,552.5 415.0,557.5 418.8,558.8 422.5,563.8 426.2,558.8 430.0,561.2 433.8,557.5 437.5,561.2 441.2,562.5 445.0,560.0 448.8,556.2 452.5,555.0 456.2,557.5 460.0,556.2 465.0,553.8 468.8,556.2 472.5,560.0 477.5,563.8 480.0,571.2 483.8,573.8 487.5,577.5 491.2,573.8 495.0,576.2 498.8,575.0 502.5,580.0 506.2,578.8 510.0,582.5 513.8,585.0 517.0,576.2 519.5,592.5 522.5,602.5 526.2,605.0 530.0,602.5 533.8,610.0 537.5,612.5 542.5,613.8 546.2,612.5 550.0,617.5 553.8,613.8 557.5,612.5 561.2,610.0 565.0,612.5 568.8,608.8 572.5,605.0 576.2,606.2 580.0,603.8 583.8,607.5 587.5,597.5 591.2,600.0 595.0,610.0 597.5,620.0 599.5,627.5 601.5,615.0 603.2,597.5 605.0,585.0 607.5,581.2 611.2,580.0 615.0,582.5 618.8,583.8 622.5,586.2 626.2,590.0 628.8,585.0 632.5,582.5 636.2,583.8 640.0,577.5 643.8,578.8 647.5,580.0 651.2,577.5 655.0,578.8 658.0,583.8 660.5,592.5 663.8,602.5 667.0,606.2 670.0,612.5 672.5,623.8 675.0,621.2 677.5,615.0 680.0,607.5 683.0,595.0 686.2,587.5 690.0,583.8 693.8,581.2 697.5,577.5 701.2,572.5 705.0,571.2 708.8,570.0 712.5,570.0 715.0,571.2 718.8,573.8 722.5,578.8 727.5,582.5 732.5,585.0 737.5,588.8 742.5,591.2 747.5,592.5 752.5,592.5 757.5,590.5 762.5,590.5 767.5,591.2 772.5,586.2 777.5,584.5 782.5,583.8 787.5,583.8 792.5,582.5 797.5,581.2 802.5,581.2 806.2,586.2 810.0,588.8 813.8,592.5 817.5,593.8 822.5,592.0 827.5,592.5 832.5,593.8 836.2,591.2 838.8,586.2 842.5,585.0 846.2,587.5 851.2,587.0 856.2,588.8 861.2,588.8 865.0,586.2 868.8,590.0 872.5,591.2 876.2,592.5 880.0,590.0 883.8,591.2 886.2,596.2 890.0,600.0 893.8,601.2 897.0,603.8 900.0,601.2 903.8,597.5 907.5,596.2 911.2,593.8 915.0,592.5 918.8,592.0 922.5,595.0 925.5,597.5 928.8,603.8 930.0,606.2 933.8,603.8 937.5,606.2 940.5,612.5 943.8,611.2 946.2,605.0 948.8,597.5 952.5,597.0 955.0,601.2 957.0,612.5 960.0,613.8 963.8,611.2 967.5,611.2 970.0,615.0 973.8,617.5 977.5,626.2 980.0,632.5 982.5,640.0 986.2,641.2 990.0,642.5 993.8,647.5 997.5,646.2 1001.2,647.5 1005.0,645.0 1008.8,643.8 1012.5,645.0 1016.2,642.5 1018.8,637.5 1022.5,636.2 1026.2,638.8 1030.0,640.0 1033.8,635.0 1036.2,638.8 1040.0,641.2 1043.8,643.8 1047.5,646.2 1051.2,643.8 1055.0,646.2 1060.0,647.0 1065.0,646.2 1070.0,648.0 1075.0,648.8 1080.0,648.8 1085.0,647.0 1088.8,646.2 1092.5,646.2 1096.2,647.5 1100.0,650.0 1103.8,651.2 1106.2,662.5 1108.8,667.5 1112.5,670.0 1116.2,672.5 1120.0,675.0 1123.8,673.8 1127.5,670.0 1131.2,668.8 1135.0,666.2 1138.0,662.5"/>
<polyline class="cv" stroke="#9467bd" points="107.5,379.5 110.0,380.1 113.1,377.0 115.0,381.4 118.8,383.2 122.5,384.5 124.4,388.9 128.8,388.2 131.9,388.9 133.8,392.0 136.2,392.0 138.8,380.8 141.2,385.1 143.8,388.9 145.6,392.6 148.1,383.2 150.0,380.8 151.9,382.0 153.1,399.5 154.0,424.5 155.0,405.8 156.9,395.8 158.8,403.2 160.6,408.2 162.5,397.0 163.8,385.1 165.0,392.6 166.9,398.2 170.0,400.8 173.8,402.0 177.5,402.6 181.2,405.1 183.8,410.1 186.2,413.9 189.4,417.0 191.9,413.9 195.0,412.6 198.8,414.5 203.8,413.2 206.2,409.5 210.0,403.2 212.5,395.8 214.0,387.0 215.2,388.9 216.2,399.5 218.8,402.0 222.5,405.1 225.0,414.5 228.1,413.9 230.6,420.8 234.4,426.4 237.5,427.0 240.0,431.4 243.8,432.0 246.9,436.4 250.0,435.0 255.0,430.0 260.0,429.5 265.0,433.8 271.2,435.0 276.2,438.8 281.2,442.5 285.0,447.5 287.0,460.0 289.5,470.0 292.5,468.8 295.8,458.8 298.8,475.0 301.8,480.0 304.5,470.0 307.5,460.0 311.2,463.8 314.5,452.5 317.5,451.2 320.0,467.5 323.0,475.0 325.8,482.5 328.8,478.8 332.0,463.8 335.0,461.2 337.5,470.0 340.0,483.8 343.8,487.5 348.8,488.8 353.8,493.8 356.2,487.5 358.8,480.0 361.2,482.5 363.8,491.2 366.2,500.0 368.8,510.0 371.2,521.2 375.0,517.5 377.0,535.0 378.8,523.8 380.0,542.5 382.5,553.8 385.0,561.2 388.8,566.2 392.5,572.5 396.2,582.5 400.0,575.0 402.5,580.0 405.0,572.5 407.5,566.2 411.2,568.8 415.0,563.8 418.8,572.5 421.2,595.0 423.8,598.8 427.5,592.5 430.0,585.0 432.5,570.0 436.2,576.2 440.0,568.8 442.5,565.0 444.5,545.0 446.2,537.5 450.0,533.5 453.8,529.5 455.5,515.0 457.0,502.5 458.8,512.5 462.5,515.0 467.5,511.2 472.5,512.5 477.5,515.0 480.0,515.0 485.0,522.5 490.0,528.8 493.8,527.5 496.2,542.5 498.8,552.5 502.5,555.0 506.2,550.0 508.8,537.5 511.2,525.0 513.8,522.5 515.0,501.2 516.2,500.0 517.5,515.0 518.8,520.0 520.0,572.5 521.2,577.5 523.8,570.0 526.2,571.2 528.8,590.0 531.2,597.5 533.8,605.0 537.5,611.2 542.5,612.5 547.5,610.0 552.5,615.0 556.2,612.5 560.0,613.8 563.8,625.0 567.5,632.5 569.5,640.0 571.2,635.0 573.2,657.5 575.5,642.5 577.5,641.2 580.0,650.0 582.5,646.2 586.2,635.0 590.0,630.0 593.8,633.8 596.2,632.5 598.0,660.0 599.2,675.0 601.2,657.5 603.0,635.0 604.2,605.0 605.8,585.0 608.8,581.2 612.5,582.5 616.2,581.2 620.0,585.0 623.8,588.8 627.0,591.2 629.2,567.5 632.5,566.2 636.2,561.2 638.8,567.5 640.5,537.5 643.8,536.2 647.5,542.5 651.2,538.8 655.0,535.0 658.0,545.0 660.5,538.8 663.8,550.0 667.0,536.2 670.0,526.2 673.0,538.8 676.2,525.0 680.0,521.2 682.5,528.8 686.2,526.2 689.5,531.2 692.5,530.0 696.2,533.8 700.0,521.2 703.0,522.5 705.8,515.0 708.8,522.5 710.0,527.5 715.0,526.2 720.0,523.8 725.0,525.0 728.8,521.2 731.2,527.5 733.0,535.0 735.0,526.2 737.5,520.0 741.2,522.5 746.2,521.2 751.2,523.8 756.2,521.2 760.0,523.8 763.8,521.2 767.5,525.0 771.2,533.8 773.8,527.5 776.2,535.0 778.8,543.8 782.5,542.5 786.2,541.2 790.0,538.8 792.5,528.8 795.0,522.5 797.5,530.0 801.2,532.5 803.8,528.8 805.5,540.0 807.5,555.0 810.0,556.2 812.5,570.0 815.0,576.2 817.0,555.0 818.8,548.8 822.5,547.5 825.5,552.5 828.8,551.2 832.5,555.0 835.0,547.5 837.5,548.8 838.8,535.0 841.2,531.2 843.8,537.5 847.5,535.0 851.2,530.0 853.8,537.5 857.5,535.0 861.2,537.5 864.5,545.0 867.5,547.5 871.2,545.0 873.8,540.0 874.5,520.0 876.2,495.0 880.0,496.2 883.0,487.5 885.5,497.5 888.0,487.5 890.5,481.2 893.0,482.5 895.5,472.5 898.0,471.2 900.0,485.0 902.5,475.0 905.0,471.2 907.5,461.2 910.0,460.0 913.0,463.8 916.2,465.0 918.8,457.5 921.2,455.0 924.2,448.8 926.2,457.5 928.8,465.0 930.0,470.0 932.5,467.5 935.5,463.8 938.8,467.5 942.5,470.0 947.5,470.5 951.2,472.5 953.8,478.8 955.8,485.0 957.0,505.0 958.8,495.0 960.5,478.8 962.5,477.5 965.0,485.0 967.5,472.5 970.0,472.0 972.5,478.8 976.2,482.5 980.0,487.5 983.8,485.0 987.0,477.5 989.5,473.8 992.5,483.8 995.5,481.2 998.8,478.8 1001.2,481.2 1003.8,488.8 1007.5,485.0 1010.0,478.8 1012.5,475.0 1015.0,480.0 1017.5,472.5 1020.5,467.5 1023.8,467.5 1026.2,473.8 1028.8,487.5 1031.2,495.0 1034.5,487.5 1037.5,488.8 1041.2,491.2 1045.0,487.5 1048.8,486.2 1052.5,480.0 1056.2,483.8 1060.0,485.0 1063.8,480.0 1067.0,475.0 1070.0,476.2 1072.5,473.8 1075.0,476.2 1078.8,472.5 1081.2,468.8 1083.0,475.0 1085.0,460.0 1087.5,445.0 1090.0,448.8 1093.0,451.2 1096.2,452.5 1099.5,460.0 1102.5,453.8 1104.2,451.2 1105.8,442.5 1107.5,461.2 1109.5,465.0 1112.5,462.5 1116.2,461.2 1120.0,466.2 1123.8,465.0 1126.2,463.8 1128.0,456.2 1130.0,471.2 1132.0,473.8 1135.0,468.8 1136.8,466.2 1138.0,457.5"/>
<polyline class="cv" stroke="#8c564b" points="107.5,520.5 113.0,520.5 113.5,584.5 152.0,584.5 152.5,530.8 157.0,530.8 157.5,618.8 287.0,618.8 288.0,671.2 292.0,671.2 292.5,609.5 379.5,609.5 380.0,619.2 382.5,619.2 383.0,569.2 485.0,569.2 485.5,627.5 490.5,627.5 491.5,675.8 517.5,675.8 518.0,555.0 520.5,555.0 520.5,620.0 522.5,620.0 522.5,563.8 570.0,563.8 570.0,616.2 586.5,616.2 587.5,468.8 604.2,468.8 605.0,543.8 609.2,543.8 609.2,377.5 917.0,377.5 917.5,425.0 919.5,425.0 919.5,370.0 1138.0,370.0"/>
</g>
<line x1="107.6" y1="368.8" x2="107.6" y2="677.2" stroke="#222" stroke-width="1.2"/><line x1="107.0" y1="676.6" x2="1138" y2="676.6" stroke="#222" stroke-width="1.2"/><line x1="101.6" y1="369.3" x2="107.6" y2="369.3" stroke="#2a2a2a" stroke-width="1"/><text x="97" y="372.3" text-anchor="end" class="tk">1.00</text><line x1="104.1" y1="381.6" x2="107.6" y2="381.6" stroke="#2a2a2a" stroke-width="1"/><line x1="104.1" y1="393.9" x2="107.6" y2="393.9" stroke="#2a2a2a" stroke-width="1"/><line x1="104.1" y1="406.2" x2="107.6" y2="406.2" stroke="#2a2a2a" stroke-width="1"/><line x1="104.1" y1="418.5" x2="107.6" y2="418.5" stroke="#2a2a2a" stroke-width="1"/><line x1="101.6" y1="430.8" x2="107.6" y2="430.8" stroke="#2a2a2a" stroke-width="1"/><text x="97" y="433.8" text-anchor="end" class="tk">800.00 m</text><line x1="104.1" y1="443.1" x2="107.6" y2="443.1" stroke="#2a2a2a" stroke-width="1"/><line x1="104.1" y1="455.3" x2="107.6" y2="455.3" stroke="#2a2a2a" stroke-width="1"/><line x1="104.1" y1="467.6" x2="107.6" y2="467.6" stroke="#2a2a2a" stroke-width="1"/><line x1="104.1" y1="479.9" x2="107.6" y2="479.9" stroke="#2a2a2a" stroke-width="1"/><line x1="101.6" y1="492.2" x2="107.6" y2="492.2" stroke="#2a2a2a" stroke-width="1"/><text x="97" y="495.2" text-anchor="end" class="tk">600.00 m</text><line x1="104.1" y1="504.5" x2="107.6" y2="504.5" stroke="#2a2a2a" stroke-width="1"/><line x1="104.1" y1="516.8" x2="107.6" y2="516.8" stroke="#2a2a2a" stroke-width="1"/><line x1="104.1" y1="529.1" x2="107.6" y2="529.1" stroke="#2a2a2a" stroke-width="1"/><line x1="104.1" y1="541.4" x2="107.6" y2="541.4" stroke="#2a2a2a" stroke-width="1"/><line x1="101.6" y1="553.7" x2="107.6" y2="553.7" stroke="#2a2a2a" stroke-width="1"/><text x="97" y="556.7" text-anchor="end" class="tk">400.00 m</text><line x1="104.1" y1="566.0" x2="107.6" y2="566.0" stroke="#2a2a2a" stroke-width="1"/><line x1="104.1" y1="578.3" x2="107.6" y2="578.3" stroke="#2a2a2a" stroke-width="1"/><line x1="104.1" y1="590.6" x2="107.6" y2="590.6" stroke="#2a2a2a" stroke-width="1"/><line x1="104.1" y1="602.8" x2="107.6" y2="602.8" stroke="#2a2a2a" stroke-width="1"/><line x1="101.6" y1="615.1" x2="107.6" y2="615.1" stroke="#2a2a2a" stroke-width="1"/><text x="97" y="618.1" text-anchor="end" class="tk">200.00 m</text><line x1="104.1" y1="627.4" x2="107.6" y2="627.4" stroke="#2a2a2a" stroke-width="1"/><line x1="104.1" y1="639.7" x2="107.6" y2="639.7" stroke="#2a2a2a" stroke-width="1"/><line x1="104.1" y1="652.0" x2="107.6" y2="652.0" stroke="#2a2a2a" stroke-width="1"/><line x1="104.1" y1="664.3" x2="107.6" y2="664.3" stroke="#2a2a2a" stroke-width="1"/><line x1="101.6" y1="676.6" x2="107.6" y2="676.6" stroke="#2a2a2a" stroke-width="1"/><text x="97" y="679.6" text-anchor="end" class="tk">0.00</text><line x1="181.0" y1="676.6" x2="181.0" y2="682.6" stroke="#000" stroke-width="1.1"/><text x="181.0" y="692.5" text-anchor="middle" class="tk">12/13</text><line x1="400.2" y1="676.6" x2="400.2" y2="682.6" stroke="#000" stroke-width="1.1"/><text x="400.2" y="692.5" text-anchor="middle" class="tk">12/16</text><line x1="619.4" y1="676.6" x2="619.4" y2="682.6" stroke="#000" stroke-width="1.1"/><text x="619.4" y="692.5" text-anchor="middle" class="tk">12/19</text><line x1="838.6" y1="676.6" x2="838.6" y2="682.6" stroke="#000" stroke-width="1.1"/><text x="838.6" y="692.5" text-anchor="middle" class="tk">12/22</text><line x1="1057.8" y1="676.6" x2="1057.8" y2="682.6" stroke="#000" stroke-width="1.1"/><text x="1057.8" y="692.5" text-anchor="middle" class="tk">12/25</text>
<text transform="translate(28,522.5) rotate(-90)" text-anchor="middle" class="it" id="t_cvd">Norm. CVD (arb. u.)</text>
<text x="623.5" y="710.8" text-anchor="middle" class="it" id="t_date">Date (UTC)</text>
<rect x="1140.5" y="539.5" width="122" height="137.5" fill="#fff" fill-opacity="0.95" stroke="#f0f0f0" stroke-width="1"/>
<line x1="1147.7" y1="556.5" x2="1164.5" y2="556.5" stroke="#1f77b4" stroke-width="1.8"/>
<text x="1169.6" y="559.9" class="lg">all orders</text>
<line x1="1147.7" y1="576.9" x2="1164.5" y2="576.9" stroke="#ff7f0e" stroke-width="1.8"/>
<text x="1169.6" y="580.3" class="lg">$100 to $1k</text>
<line x1="1147.7" y1="597.3" x2="1164.5" y2="597.3" stroke="#2ca02c" stroke-width="1.8"/>
<text x="1169.6" y="600.7" class="lg">$1k to $10k</text>
<line x1="1147.7" y1="617.7" x2="1164.5" y2="617.7" stroke="#d62728" stroke-width="1.8"/>
<text x="1169.6" y="621.1" class="lg">$10k to $100k</text>
<line x1="1147.7" y1="638.1" x2="1164.5" y2="638.1" stroke="#9467bd" stroke-width="1.8"/>
<text x="1169.6" y="641.5" class="lg">$100k to $1M</text>
<line x1="1147.7" y1="658.5" x2="1164.5" y2="658.5" stroke="#8c564b" stroke-width="1.8"/>
<text x="1169.6" y="661.9" class="lg">$1M to $10M</text>
</svg></body></html>
